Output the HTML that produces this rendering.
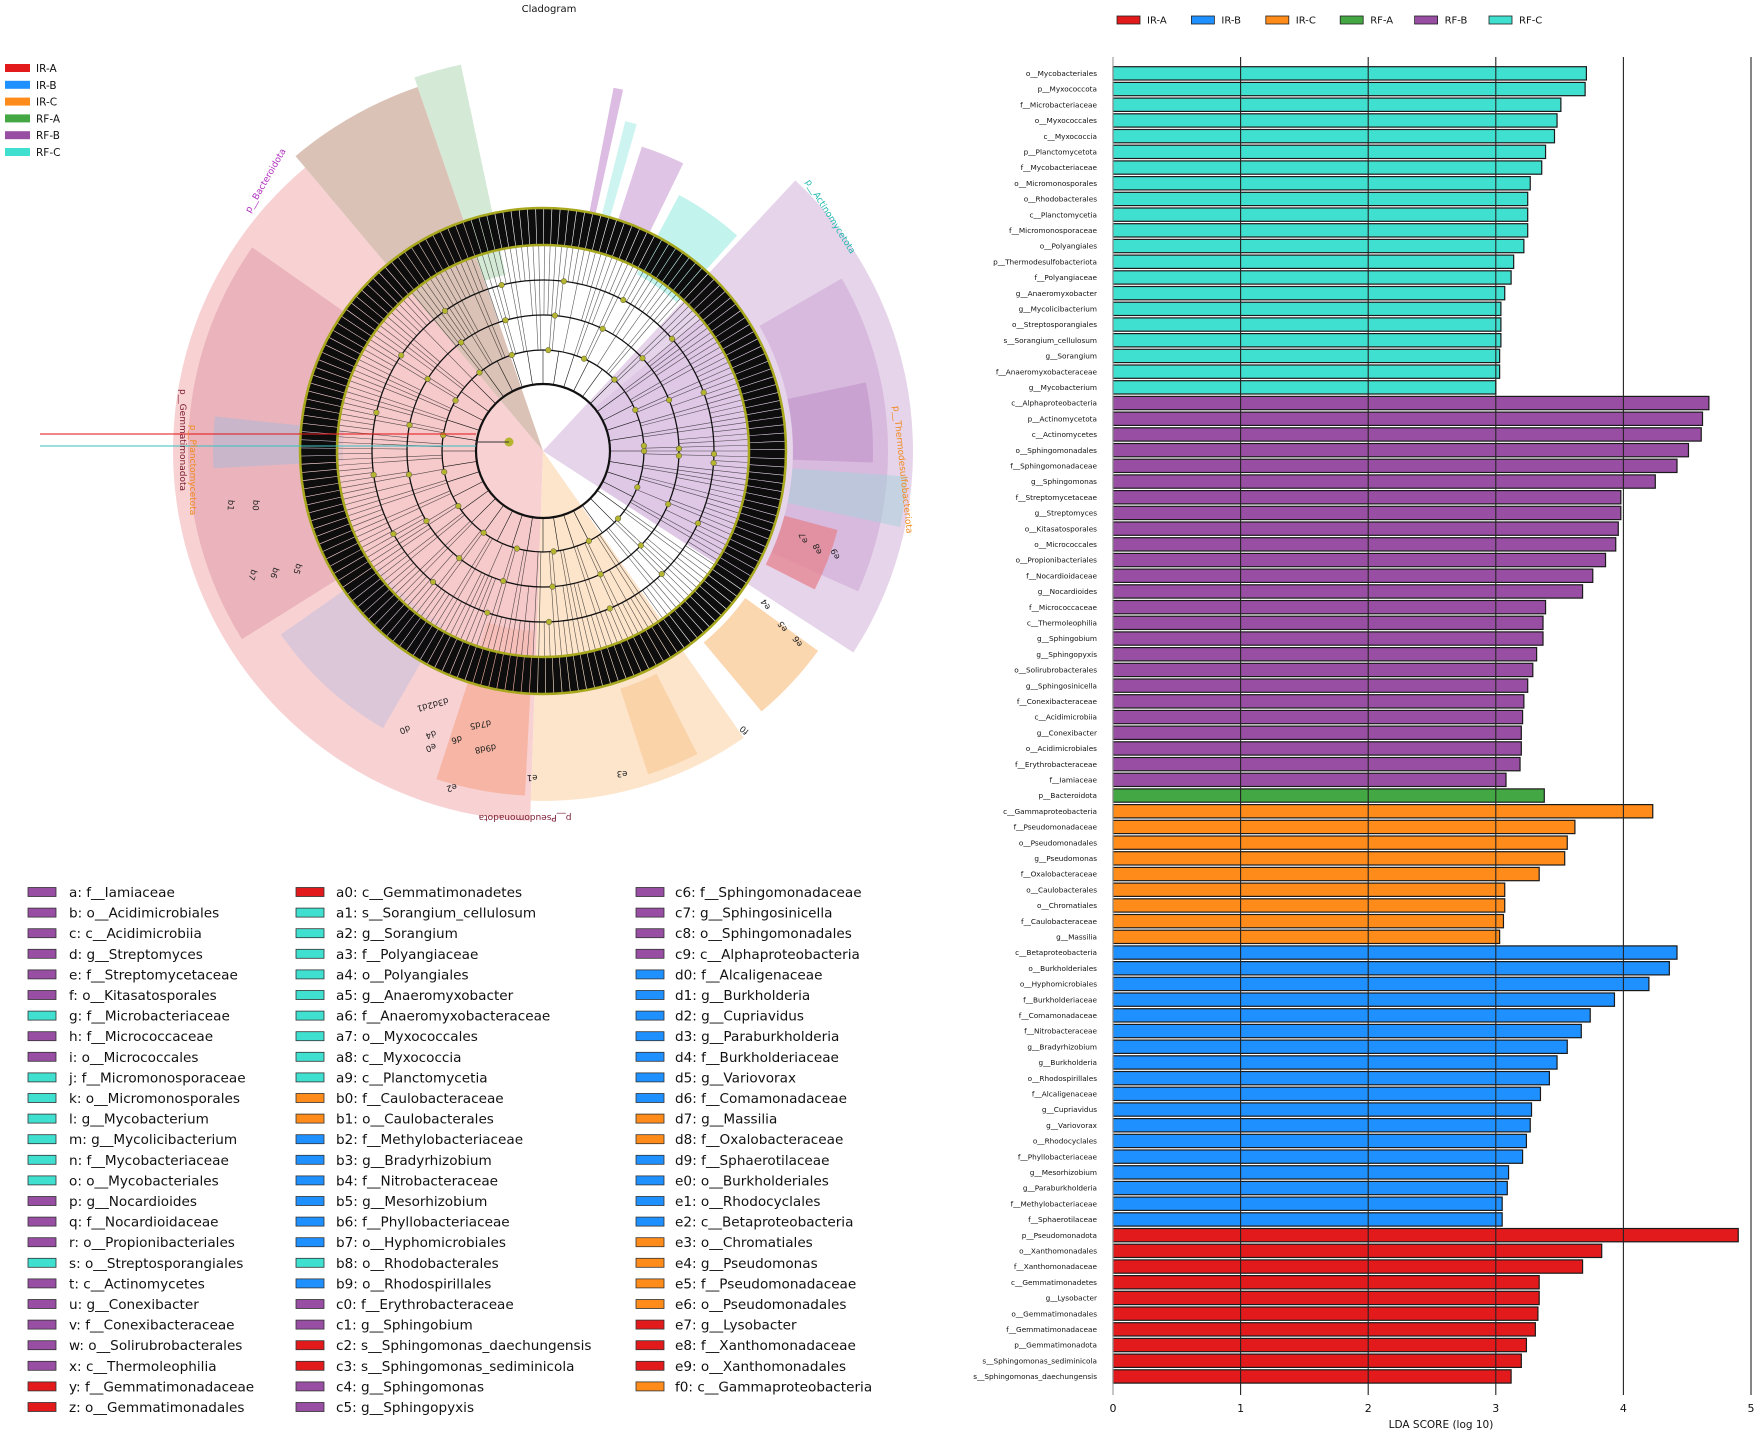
<!DOCTYPE html>
<html><head><meta charset="utf-8">
<style>
html,body{margin:0;padding:0;background:#fff;}
svg{display:block;font-family:"DejaVu Sans","Liberation Sans",sans-serif;}
</style></head>
<body>
<svg id="root" width="1755" height="1433" viewBox="0 0 1755 1433" xmlns="http://www.w3.org/2000/svg">
<g id="clado"></g>
<g id="cladoLegend"></g>
<g id="bars"></g>
</svg>
<script>
const NS="http://www.w3.org/2000/svg";
const COL={"IR-A":"#e31a1c","IR-B":"#1e90ff","IR-C":"#ff8c1a","RF-A":"#43a843","RF-B":"#984ea3","RF-C":"#40e0d0"};
const groups=["IR-A","IR-B","IR-C","RF-A","RF-B","RF-C"];

// ---- LDA bar chart data ----
const rfcNames=["o__Mycobacteriales","p__Myxococcota","f__Microbacteriaceae","o__Myxococcales","c__Myxococcia","p__Planctomycetota","f__Mycobacteriaceae","o__Micromonosporales","o__Rhodobacterales","c__Planctomycetia","f__Micromonosporaceae","o__Polyangiales","p__Thermodesulfobacteriota","f__Polyangiaceae","g__Anaeromyxobacter","g__Mycolicibacterium","o__Streptosporangiales","s__Sorangium_cellulosum","g__Sorangium","f__Anaeromyxobacteraceae","g__Mycobacterium"];
const rfcValues=[3.71,3.70,3.51,3.48,3.46,3.39,3.36,3.27,3.25,3.25,3.25,3.22,3.14,3.12,3.07,3.04,3.04,3.04,3.03,3.03,3.00];
const rfbNames=["c__Alphaproteobacteria","p__Actinomycetota","c__Actinomycetes","o__Sphingomonadales","f__Sphingomonadaceae","g__Sphingomonas","f__Streptomycetaceae","g__Streptomyces","o__Kitasatosporales","o__Micrococcales","o__Propionibacteriales","f__Nocardioidaceae","g__Nocardioides","f__Micrococcaceae","c__Thermoleophilia","g__Sphingobium","g__Sphingopyxis","o__Solirubrobacterales","g__Sphingosinicella","f__Conexibacteraceae","c__Acidimicrobiia","g__Conexibacter","o__Acidimicrobiales","f__Erythrobacteraceae","f__Iamiaceae"];
const rfbValues=[4.67,4.62,4.61,4.51,4.42,4.25,3.98,3.98,3.96,3.94,3.86,3.76,3.68,3.39,3.37,3.37,3.32,3.29,3.25,3.22,3.21,3.20,3.20,3.19,3.08];
const rfaNames=["p__Bacteroidota"];
const rfaValues=[3.38];
const ircNames=["c__Gammaproteobacteria","f__Pseudomonadaceae","o__Pseudomonadales","g__Pseudomonas","f__Oxalobacteraceae","o__Caulobacterales","o__Chromatiales","f__Caulobacteraceae","g__Massilia"];
const ircValues=[4.23,3.62,3.56,3.54,3.34,3.07,3.07,3.06,3.03];
const irbNames=["c__Betaproteobacteria","o__Burkholderiales","o__Hyphomicrobiales","f__Burkholderiaceae","f__Comamonadaceae","f__Nitrobacteraceae","g__Bradyrhizobium","g__Burkholderia","o__Rhodospirillales","f__Alcaligenaceae","g__Cupriavidus","g__Variovorax","o__Rhodocyclales","f__Phyllobacteriaceae","g__Mesorhizobium","g__Paraburkholderia","f__Methylobacteriaceae","f__Sphaerotilaceae"];
const irbValues=[4.42,4.36,4.20,3.93,3.74,3.67,3.56,3.48,3.42,3.35,3.28,3.27,3.24,3.21,3.10,3.09,3.05,3.05];
const iraNames=["p__Pseudomonadota","o__Xanthomonadales","f__Xanthomonadaceae","c__Gemmatimonadetes","g__Lysobacter","o__Gemmatimonadales","f__Gemmatimonadaceae","p__Gemmatimonadota","s__Sphingomonas_sediminicola","s__Sphingomonas_daechungensis"];
const iraValues=[4.90,3.83,3.68,3.34,3.34,3.33,3.31,3.24,3.20,3.12];
const xTicks=[0,1,2,3,4,5];

// ---- cladogram legend data ----
const legCol1=[["a: f__Iamiaceae","RF-B"],["b: o__Acidimicrobiales","RF-B"],["c: c__Acidimicrobiia","RF-B"],["d: g__Streptomyces","RF-B"],["e: f__Streptomycetaceae","RF-B"],["f: o__Kitasatosporales","RF-B"],["g: f__Microbacteriaceae","RF-C"],["h: f__Micrococcaceae","RF-B"],["i: o__Micrococcales","RF-B"],["j: f__Micromonosporaceae","RF-C"],["k: o__Micromonosporales","RF-C"],["l: g__Mycobacterium","RF-C"],["m: g__Mycolicibacterium","RF-C"],["n: f__Mycobacteriaceae","RF-C"],["o: o__Mycobacteriales","RF-C"],["p: g__Nocardioides","RF-B"],["q: f__Nocardioidaceae","RF-B"],["r: o__Propionibacteriales","RF-B"],["s: o__Streptosporangiales","RF-C"],["t: c__Actinomycetes","RF-B"],["u: g__Conexibacter","RF-B"],["v: f__Conexibacteraceae","RF-B"],["w: o__Solirubrobacterales","RF-B"],["x: c__Thermoleophilia","RF-B"],["y: f__Gemmatimonadaceae","IR-A"],["z: o__Gemmatimonadales","IR-A"]];
const legCol2=[["a0: c__Gemmatimonadetes","IR-A"],["a1: s__Sorangium_cellulosum","RF-C"],["a2: g__Sorangium","RF-C"],["a3: f__Polyangiaceae","RF-C"],["a4: o__Polyangiales","RF-C"],["a5: g__Anaeromyxobacter","RF-C"],["a6: f__Anaeromyxobacteraceae","RF-C"],["a7: o__Myxococcales","RF-C"],["a8: c__Myxococcia","RF-C"],["a9: c__Planctomycetia","RF-C"],["b0: f__Caulobacteraceae","IR-C"],["b1: o__Caulobacterales","IR-C"],["b2: f__Methylobacteriaceae","IR-B"],["b3: g__Bradyrhizobium","IR-B"],["b4: f__Nitrobacteraceae","IR-B"],["b5: g__Mesorhizobium","IR-B"],["b6: f__Phyllobacteriaceae","IR-B"],["b7: o__Hyphomicrobiales","IR-B"],["b8: o__Rhodobacterales","RF-C"],["b9: o__Rhodospirillales","IR-B"],["c0: f__Erythrobacteraceae","RF-B"],["c1: g__Sphingobium","RF-B"],["c2: s__Sphingomonas_daechungensis","IR-A"],["c3: s__Sphingomonas_sediminicola","IR-A"],["c4: g__Sphingomonas","RF-B"],["c5: g__Sphingopyxis","RF-B"]];
const legCol3=[["c6: f__Sphingomonadaceae","RF-B"],["c7: g__Sphingosinicella","RF-B"],["c8: o__Sphingomonadales","RF-B"],["c9: c__Alphaproteobacteria","RF-B"],["d0: f__Alcaligenaceae","IR-B"],["d1: g__Burkholderia","IR-B"],["d2: g__Cupriavidus","IR-B"],["d3: g__Paraburkholderia","IR-B"],["d4: f__Burkholderiaceae","IR-B"],["d5: g__Variovorax","IR-B"],["d6: f__Comamonadaceae","IR-B"],["d7: g__Massilia","IR-C"],["d8: f__Oxalobacteraceae","IR-C"],["d9: f__Sphaerotilaceae","IR-B"],["e0: o__Burkholderiales","IR-B"],["e1: o__Rhodocyclales","IR-B"],["e2: c__Betaproteobacteria","IR-B"],["e3: o__Chromatiales","IR-C"],["e4: g__Pseudomonas","IR-C"],["e5: f__Pseudomonadaceae","IR-C"],["e6: o__Pseudomonadales","IR-C"],["e7: g__Lysobacter","IR-A"],["e8: f__Xanthomonadaceae","IR-A"],["e9: o__Xanthomonadales","IR-A"],["f0: c__Gammaproteobacteria","IR-C"]];

function mk(tag,attrs,parent){const e=document.createElementNS(NS,tag);for(const k in attrs)e.setAttribute(k,attrs[k]);parent.appendChild(e);return e;}

// ================= BAR CHART =================
const bars=document.getElementById('bars');
const X0=1113, UNIT=127.6, Y0=66.7, PITCH=15.7, BH=13.3, AXT=57, AXB=1395;
const xs=v=>X0+v*UNIT;
const series=[[rfcNames,rfcValues,"RF-C"],[rfbNames,rfbValues,"RF-B"],[rfaNames,rfaValues,"RF-A"],[ircNames,ircValues,"IR-C"],[irbNames,irbValues,"IR-B"],[iraNames,iraValues,"IR-A"]];
let idx=0;
series.forEach(([names,vals,g])=>{
  names.forEach((n,i)=>{
    const y=Y0+idx*PITCH;
    const r=mk('rect',{x:xs(0),y:y,width:xs(vals[i])-xs(0),height:BH,fill:COL[g],stroke:"#1a1a1a","stroke-width":1.2},bars);
    
    
    const t=mk('text',{x:1097,y:y+BH/2+2.6,"font-size":7.3,"text-anchor":"end",fill:"#111"},bars);
    t.textContent=n;
    
    
    idx++;
  });
});
xTicks.forEach(v=>{
  const l=mk('line',{x1:xs(v),x2:xs(v),y1:AXT,y2:AXB,stroke:v===0?"#999":"#222","stroke-width":1.1},bars);
  
  
  const t=mk('text',{x:xs(v),y:1412,"font-size":11,"text-anchor":"middle",fill:"#111"},bars);
  t.textContent=v;
  
  
});
const xt=mk('text',{x:1441,y:1428,"font-size":10.5,"text-anchor":"middle",fill:"#111"},bars);
xt.textContent="LDA SCORE (log 10)";


groups.forEach((g,i)=>{
  const x=1117+i*74.4;
  const r=mk('rect',{x:x,y:16,width:23,height:8,fill:COL[g],stroke:"#222","stroke-width":0.8},bars);
  
  
  const t=mk('text',{x:x+30,y:23.5,"font-size":10,fill:"#111"},bars);
  t.textContent=g;
  
  
});

// ================= CLADOGRAM LEGENDS =================
const cl=document.getElementById('cladoLegend');
[[legCol1,28,69],[legCol2,296,336],[legCol3,636,675]].forEach(([arr,rx,tx])=>{
  arr.forEach(([lab,g],i)=>{
    const y=892+i*20.6;
    const r=mk('rect',{x:rx,y:y-4.5,width:28,height:9,fill:COL[g],stroke:"#333","stroke-width":0.8},cl);
    
    
    const t=mk('text',{x:tx,y:y+5,"font-size":13.6,fill:"#111"},cl);
    t.textContent=lab;
    
    
  });
});
groups.forEach((g,i)=>{
  const y=68+i*16.8;
  const r=mk('rect',{x:5,y:y-4,width:25,height:8,fill:COL[g]},cl);
  
  
  const t=mk('text',{x:36,y:y+4,"font-size":10.5,fill:"#111"},cl);
  t.textContent=g;
  
  
});

// ================= CLADOGRAM (decorative) =================
const cg=document.getElementById('clado');
const CX=543, CY=451;
const rad=d=>d*Math.PI/180;
function sector(a1,a2,r1,r2,fill,op,name){
  const p=(a,r)=>[CX+r*Math.cos(rad(a)),CY+r*Math.sin(rad(a))];
  const large=(a2-a1)>180?1:0;
  const [x1,y1]=p(a1,r2),[x2,y2]=p(a2,r2),[x3,y3]=p(a2,r1),[x4,y4]=p(a1,r1);
  const d=`M${x1},${y1} A${r2},${r2} 0 ${large} 1 ${x2},${y2} L${x3},${y3} A${r1},${r1} 0 ${large} 0 ${x4},${y4} Z`;
  const e=mk('path',{d:d,fill:fill,"fill-opacity":op},cg);
  
  
}

sector(92,230,0,370,"#f3b3b6",0.6,"clade-pseudomonadota");
sector(148,215,240,355,"#d88a9c",0.4,"clade-gemmatimonadota");
sector(230,251,0,385,"#cfae9d",0.75,"clade-bacteroidota");
sector(251,258,180,395,"#cfe7d1",0.9,"clade-rf-a");
sector(55,92,0,350,"#fde2c6",0.9,"clade-gammaproteobacteria");
sector(63,72,250,340,"#f8c68f",0.6,"clade-chromatiales");
sector(93,108,180,345,"#f5a07f",0.55,"clade-betaproteobacteria");
sector(36,50,250,340,"#f9c185",0.65,"clade-pseudomonadales");
sector(-47,33,0,370,"#e3cfe8",0.9,"clade-actinomycetota");
sector(-30,24,250,345,"#c79bd0",0.45,"clade-actinomycetes");
sector(-12,2,250,330,"#a66bb3",0.3,"clade-streptomyces");
sector(15,27,250,305,"#e5838d",0.75,"clade-xanthomonadales");
sector(4,12,250,365,"#a8cfd8",0.55,"clade-rf-c-strip");
sector(-62,-48,200,290,"#a8eee6",0.7,"clade-mycobacteriales");
sector(-72,-64,240,320,"#d8b5df",0.8,"clade-propionibacteriales");
sector(-76,-74,240,340,"#c8f3ee",0.9,"clade-streptosporangiales");
sector(-79,-77.5,240,370,"#d8b5df",0.9,"clade-thin-strip");
sector(177,186,200,330,"#a9b8d8",0.5,"clade-planctomycetota");
sector(120,145,200,320,"#b7bbdd",0.45,"clade-alphaproteobacteria");
sector(-40,33,67,206,"#dcc3e4",0.7,"inner-rf-b");
sector(92,230,67,206,"#f5c4c6",0.6,"inner-ir-a");

const tt=mk('text',{x:549,y:12,"font-size":10,"text-anchor":"middle",fill:"#111"},cg);
tt.textContent="Cladogram";



// tree branch lines (decorative)
const lines=mk('g',{stroke:"#111","stroke-width":0.6},cg);


for(let i=0;i<360;i+=1.6){
  const a=rad(i), r1=(i%7<3)?101:(i%5<2?136:171);
  mk('line',{x1:CX+r1*Math.cos(a),y1:CY+r1*Math.sin(a),x2:CX+206*Math.cos(a),y2:CY+206*Math.sin(a),"stroke-opacity":0.7},lines);
}
for(let i=0;i<360;i+=9){
  const a=rad(i);
  mk('line',{x1:CX+67*Math.cos(a),y1:CY+67*Math.sin(a),x2:CX+101*Math.cos(a),y2:CY+101*Math.sin(a)},lines);
}
// black outer ring
const ring=mk('circle',{cx:CX,cy:CY,r:224,fill:"none",stroke:"#0d0d0d","stroke-width":38,"stroke-dasharray":"7 0.6"},cg);


[[67,2.2,"#111"],[101,1.3,"#111"],[136,1.3,"#111"],[171,1.3,"#111"],[206,2.5,"#a8a81e"],[243,2.5,"#a8a81e"]].forEach(([r,w,c])=>{
  const e=mk('circle',{cx:CX,cy:CY,r:r,fill:"none",stroke:c,"stroke-width":w},cg);
  
  
});
const nodes=mk('g',{},cg);


for(let i=0;i<360;i+=7){
  [101,136,171].forEach((r,k)=>{
    if((i+k*3)%3===0){const a=rad(i+k*2);mk('circle',{cx:CX+r*Math.cos(a),cy:CY+r*Math.sin(a),r:2.8,fill:"#b5b530",stroke:"#333","stroke-width":0.4},nodes);}
  });
}
const root=mk('circle',{cx:509,cy:442,r:4.5,fill:"#b5b530"},cg);


mk('line',{x1:509,y1:442,x2:476,y2:442,stroke:"#333","stroke-width":1},cg);
const redLine=mk('line',{x1:476,y1:434,x2:40,y2:434,stroke:"#e31a1c","stroke-width":1.5,"stroke-opacity":0.7},cg);


const tealLine=mk('line',{x1:476,y1:446,x2:40,y2:446,stroke:"#40c0c0","stroke-width":1.5,"stroke-opacity":0.7},cg);



function label(txt,x,y,rot,color,size,name){
  const t=mk('text',{x:x,y:y,"font-size":size,fill:color,transform:`rotate(${rot} ${x} ${y})`,"text-anchor":"middle"},cg);
  t.textContent=txt;
  
  
}
label("p__Bacteroidota",268,182,-60,"#b030c0",9,"phylum-label-bacteroidota");
label("p__Actinomycetota",828,218,58,"#20b8b0",9,"phylum-label-actinomycetota");
label("p__Thermodesulfobacteriota",900,470,84,"#f08a20",9,"phylum-label-thermodesulfobacteriota");
label("p__Pseudomonadota",525,815,180,"#7a1a30",9,"phylum-label-pseudomonadota");
label("p__Gemmatimonadota",180,440,90,"#7a1a30",9,"phylum-label-gemmatimonadota");
label("p__Planctomycetota",190,470,90,"#f08a20",9,"phylum-label-planctomycetota");
const letters=[["e3",622,771,180],["e2",451,785,165],["e1",532,775,178],["e0",430,745,160],["f0",746,728,-140],["e4",768,603,-120],["e5",785,625,-120],["e6",800,640,-120],["e7",806,537,-110],["e8",820,548,-110],["e9",838,553,-110],["b7",250,574,110],["b6",272,572,110],["b5",295,568,110],["b1",228,505,95],["b0",253,505,95],["d0",404,727,160],["d4",430,732,160],["d6",456,737,165],["d9d8",485,746,170],["d7d5",480,722,170],["d3d2d1",432,702,165]];
letters.forEach(([s,x,y,r])=>label(s,x,y,r,"#222",8.5,"clade-letter"));
</script>
</body></html>
